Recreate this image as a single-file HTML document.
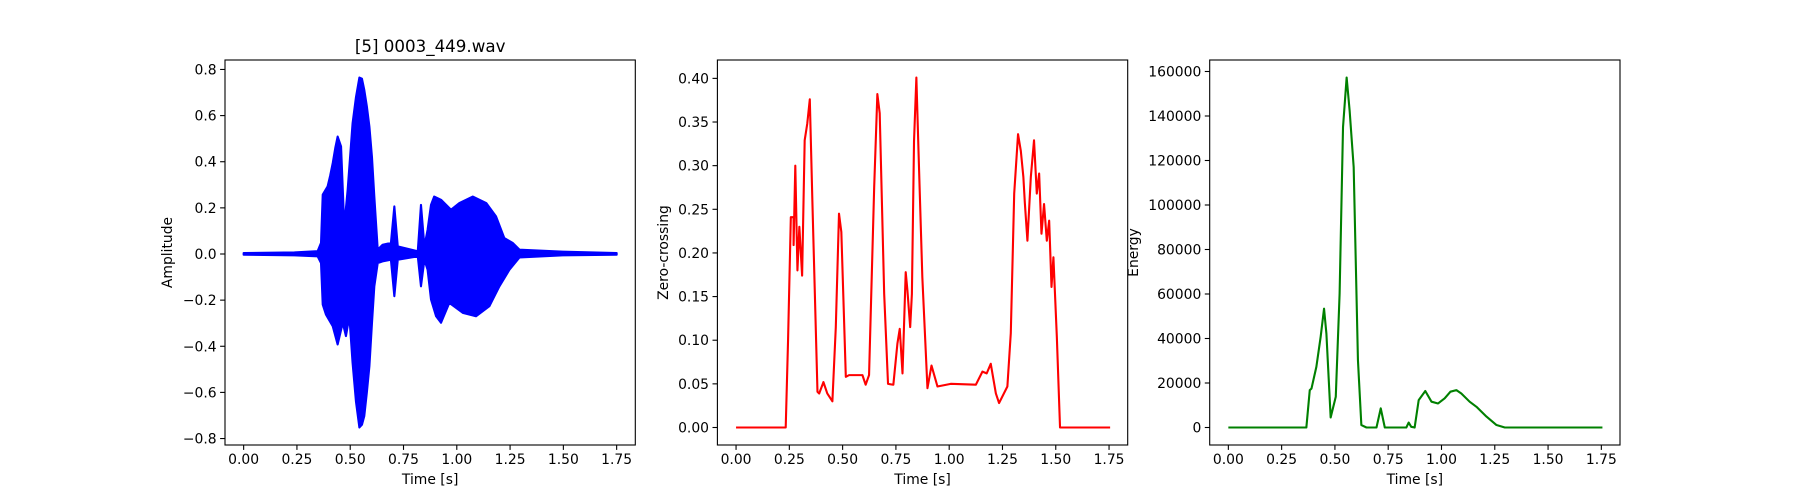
<!DOCTYPE html>
<html><head><meta charset="utf-8"><title>0003_449.wav analysis</title>
<style>
html,body{margin:0;padding:0;background:#fff;}
svg{display:block;font-family:"DejaVu Sans","Liberation Sans",sans-serif;}
</style></head>
<body>
<svg id="fig" width="1800" height="500" viewBox="0 0 1800 500" xmlns="http://www.w3.org/2000/svg">
<rect width="1800" height="500" fill="#fff"/>
</svg>
<script>
// shared x data / ticks
const xTicks = [0, 0.25, 0.5, 0.75, 1.0, 1.25, 1.5, 1.75];
const xTickLabels = ["0.00","0.25","0.50","0.75","1.00","1.25","1.50","1.75"];

// waveform envelope (upper / lower)
const waveUpperT = [0,0.238,0.347,0.363,0.371,0.394,0.406,0.418,0.43,0.441,0.457,0.472,0.488,0.511,0.527,0.543,0.555,0.566,0.578,0.59,0.602,0.613,0.629,0.652,0.691,0.707,0.723,0.817,0.832,0.848,0.863,0.879,0.894,0.926,0.973,1.012,1.075,1.138,1.184,1.223,1.262,1.294,1.497,1.75];
const waveUpperV = [0.004,0.007,0.012,0.048,0.257,0.293,0.34,0.394,0.46,0.509,0.466,0.12,0.278,0.566,0.68,0.765,0.76,0.711,0.64,0.552,0.42,0.249,0.019,0.04,0.048,0.206,0.033,0.012,0.213,0.033,0.105,0.213,0.249,0.235,0.192,0.221,0.249,0.221,0.163,0.069,0.048,0.019,0.01,0.004];
const waveLowerT = [0,0.238,0.347,0.363,0.371,0.386,0.418,0.441,0.465,0.48,0.496,0.511,0.527,0.543,0.555,0.566,0.578,0.59,0.602,0.613,0.629,0.652,0.691,0.707,0.723,0.817,0.832,0.848,0.863,0.879,0.903,0.926,0.965,1.028,1.09,1.153,1.2,1.247,1.294,1.497,1.75];
const waveLowerV = [-0.003,-0.006,-0.01,-0.039,-0.219,-0.262,-0.313,-0.392,-0.298,-0.356,-0.27,-0.471,-0.64,-0.752,-0.74,-0.702,-0.6,-0.486,-0.3,-0.14,-0.039,-0.032,-0.025,-0.183,-0.025,-0.01,-0.14,-0.025,-0.068,-0.197,-0.27,-0.298,-0.212,-0.255,-0.27,-0.226,-0.14,-0.068,-0.015,-0.006,-0.003];
const ampTicks = [-0.8,-0.6,-0.4,-0.2,0.0,0.2,0.4,0.6,0.8];
const ampTickLabels = ["\u22120.8","\u22120.6","\u22120.4","\u22120.2","0.0","0.2","0.4","0.6","0.8"];

// zero-crossing
const zcT = [0,0.233,0.244,0.257,0.27,0.27,0.278,0.288,0.297,0.31,0.322,0.334,0.346,0.358,0.382,0.39,0.41,0.428,0.452,0.468,0.483,0.494,0.515,0.53,0.593,0.608,0.624,0.648,0.663,0.674,0.695,0.713,0.738,0.757,0.768,0.781,0.796,0.804,0.817,0.825,0.835,0.846,0.856,0.874,0.898,0.917,0.945,1.007,1.125,1.156,1.176,1.195,1.219,1.234,1.273,1.289,1.305,1.323,1.336,1.348,1.355,1.367,1.383,1.398,1.411,1.422,1.433,1.445,1.458,1.469,1.48,1.489,1.505,1.52,1.755];
const zcV = [0,0,0.1,0.241,0.241,0.209,0.3,0.18,0.23,0.174,0.329,0.348,0.376,0.26,0.041,0.039,0.052,0.039,0.03,0.115,0.245,0.224,0.058,0.06,0.06,0.049,0.06,0.275,0.382,0.36,0.153,0.05,0.049,0.096,0.113,0.062,0.178,0.157,0.115,0.153,0.328,0.401,0.317,0.172,0.045,0.071,0.047,0.05,0.049,0.064,0.062,0.073,0.039,0.028,0.047,0.108,0.268,0.336,0.317,0.287,0.257,0.214,0.287,0.329,0.268,0.291,0.222,0.256,0.214,0.237,0.161,0.195,0.104,0,0];
const zcTicks = [0,0.05,0.1,0.15,0.2,0.25,0.3,0.35,0.4];
const zcTickLabels = ["0.00","0.05","0.10","0.15","0.20","0.25","0.30","0.35","0.40"];

// energy
const enT = [0,0.366,0.382,0.39,0.413,0.433,0.449,0.46,0.48,0.504,0.522,0.538,0.555,0.569,0.588,0.608,0.624,0.648,0.695,0.715,0.734,0.835,0.846,0.858,0.874,0.893,0.924,0.953,0.984,1.015,1.042,1.07,1.093,1.132,1.164,1.211,1.258,1.297,1.755];
const enV = [0,0,16800,17500,27300,40700,53400,42200,4500,13800,60200,135000,157300,142400,117000,30300,1100,0,0,8600,0,0,2200,300,0,12300,16400,11600,10800,13100,16100,16800,15300,11600,9300,4900,1100,0,0];
const enTicks = [0,20000,40000,60000,80000,100000,120000,140000,160000];
const enTickLabels = ["0","20000","40000","60000","80000","100000","120000","140000","160000"];

const NS = "http://www.w3.org/2000/svg";
const svg = document.getElementById("fig");
function mk(tag, attrs, parent){
  const e = document.createElementNS(NS, tag);
  for (const k in attrs) e.setAttribute(k, attrs[k]);
  (parent||svg).appendChild(e);
  return e;
}
const TOP = 60, BOT = 445, W = 410.3;
const lefts = [225, 717.4, 1209.7];
const xMin = -0.0875, xMax = 1.8375;

function makeX(left){ return t => left + (t - xMin) / (xMax - xMin) * W; }
function makeY(lo, hi){ return v => BOT - (v - lo) / (hi - lo) * (BOT - TOP); }

function drawAxes(idx, xf, yf, yT, yL, ylabel, ylabelX, name){
  const left = lefts[idx];
  const g = mk("g", {});
  
  
  xTicks.forEach((t,i)=>{
    const x = xf(t);
    const tk = mk("line",{x1:x,x2:x,y1:BOT,y2:BOT+4.9,stroke:"#000","stroke-width":1.1},g);
    
    
    const tl = mk("text",{x:x,y:BOT+19,"text-anchor":"middle","font-size":"13.9px",fill:"#000"},g);
    tl.textContent = xTickLabels[i];
    
    
  });
  yT.forEach((v,i)=>{
    const y = yf(v);
    const tk = mk("line",{x1:left-4.9,x2:left,y1:y,y2:y,stroke:"#000","stroke-width":1.1},g);
    
    
    const tl = mk("text",{x:left-8.4,y:y+5,"text-anchor":"end","font-size":"13.9px",fill:"#000"},g);
    tl.textContent = yL[i];
    
    
  });
  const xl = mk("text",{x:left+W/2,y:BOT+39,"text-anchor":"middle","font-size":"13.9px",fill:"#000"},g);
  xl.textContent = "Time [s]";
  
  
  const yy = (TOP+BOT)/2;
  const yl = mk("text",{x:ylabelX,y:yy,"text-anchor":"middle","font-size":"13.9px",fill:"#000",transform:`rotate(-90 ${ylabelX} ${yy})`},g);
  yl.textContent = ylabel;
  
  
}
function frame(idx, name){
  const r = mk("rect",{x:lefts[idx],y:TOP,width:W,height:BOT-TOP,fill:"none",stroke:"#000","stroke-width":1.1});
  
  
}
function linePath(ts, vs, xf, yf){
  return ts.map((t,i)=>(i?"L":"M")+xf(t).toFixed(2)+","+yf(vs[i]).toFixed(2)).join("");
}

// Panel 1: waveform
{
  const xf = makeX(lefts[0]), yf = makeY(-0.828, 0.841);
  drawAxes(0, xf, yf, ampTicks, ampTickLabels, "Amplitude", 172, "waveform");
  const clip = mk("clipPath",{id:"c0"}); mk("rect",{x:lefts[0],y:TOP,width:W,height:BOT-TOP},clip);
  let d = linePath(waveUpperT, waveUpperV, xf, yf);
  for (let i = waveLowerT.length-1; i >= 0; i--) d += "L"+xf(waveLowerT[i]).toFixed(2)+","+yf(waveLowerV[i]).toFixed(2);
  d += "Z";
  const p = mk("path",{d:d,fill:"#0000ff",stroke:"#0000ff","stroke-width":2.1,"stroke-linejoin":"round","clip-path":"url(#c0)"});
  
  
  frame(0, "waveform");
  const tt = mk("text",{x:lefts[0]+W/2,y:52,"text-anchor":"middle","font-size":"16.7px",fill:"#000"});
  tt.textContent = "[5] 0003_449.wav";
  
  
}
// Panel 2: zero crossing
{
  const xf = makeX(lefts[1]), yf = makeY(-0.02005, 0.42105);
  drawAxes(1, xf, yf, zcTicks, zcTickLabels, "Zero-crossing", 668, "zero-crossing");
  const p = mk("path",{d:linePath(zcT, zcV, xf, yf),fill:"none",stroke:"#ff0000","stroke-width":2.1,"stroke-linejoin":"round"});
  
  
  frame(1, "zero-crossing");
}
// Panel 3: energy
{
  const xf = makeX(lefts[2]), yf = makeY(-7865, 165165);
  drawAxes(2, xf, yf, enTicks, enTickLabels, "Energy", 1138, "energy");
  const p = mk("path",{d:linePath(enT, enV, xf, yf),fill:"none",stroke:"#008000","stroke-width":2.1,"stroke-linejoin":"round"});
  
  
  frame(2, "energy");
}
</script>
</body></html>
